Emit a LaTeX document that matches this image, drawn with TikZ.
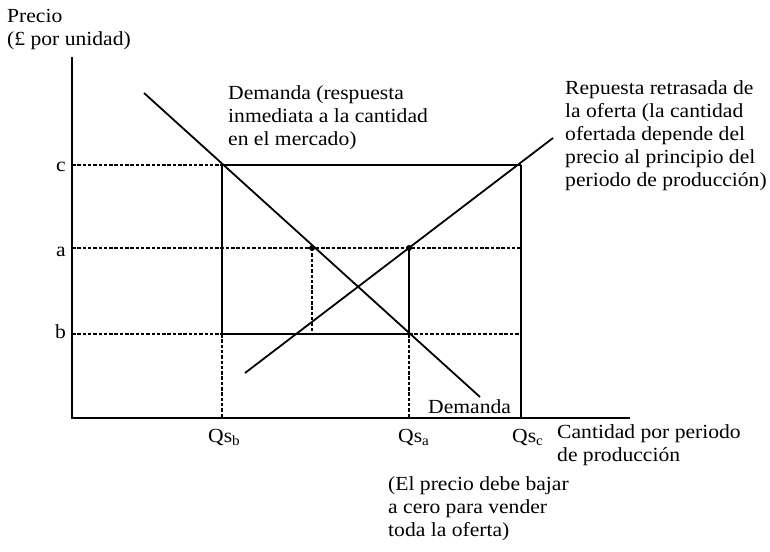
\documentclass[tikz,border=0pt]{standalone}
\usepackage{fontspec}
\setmainfont{Liberation Serif}[FakeStretch=1.08]
\newcommand\mlines[1]{\vtop{\halign{##\hfil\cr#1\crcr}}}
\begin{document}
\begin{tikzpicture}[x=1bp,y=-1bp,
  lbl/.style={inner sep=0pt, font=\fontsize{20bp}{23bp}\selectfont},
  txt/.style={lbl, anchor=base west},
  axisline/.style={line width=1.3bp},
  curve/.style={line width=1.8bp},
  solidref/.style={line width=1.2bp},
  dashref/.style={line width=1.1bp, dash pattern=on 3.5bp off 1.8bp},
  dot/.style={circle, fill, inner sep=0pt, minimum size=6bp}]
\useasboundingbox (0,0) rectangle (770,552);
% axes
\coordinate (O) at (72,418);
\coordinate (Ytop) at (72,57);
\coordinate (Xend) at (630,418);
\draw[axisline] (Ytop) -- (O) -- (Xend);
% reference points
\coordinate (yc) at (72,165);
\coordinate (ya) at (72,248);
\coordinate (yb) at (72,334);
\coordinate (cb) at (222,165);
\coordinate (cc) at (521,165);
\coordinate (am) at (312,248);
\coordinate (aa) at (409,248);
\coordinate (ac) at (521,248);
\coordinate (bb) at (222,334);
\coordinate (bm) at (312,334);
\coordinate (ba) at (409,334);
\coordinate (bc) at (521,334);
\coordinate (xb) at (222,418);
\coordinate (xa) at (409,418);
\coordinate (xc) at (521,418);
% price c
\draw[dashref] (yc) -- (cb);
\draw[solidref] (cb) -- (cc);
% price a
\draw[dashref] (ya) -- (ac);
% price b
\draw[dashref] (yb) -- (bb);
\draw[solidref] (bb) -- (ba);
\draw[dashref] (ba) -- (bc);
% verticals
\draw[solidref] (cb) -- (bb);
\draw[dashref] (bb) -- (xb);
\draw[dashref] (am) -- (bm);
\draw[solidref] (aa) -- (ba);
\draw[dashref] (ba) -- (xa);
\draw[solidref] (cc) -- (xc);
% demand and supply
\coordinate (D1) at (144,93);
\coordinate (D2) at (480,397);
\coordinate (S1) at (245,373);
\coordinate (S2) at (553,138);
\draw[curve] (D1) -- (D2);
\draw[curve] (S1) -- (S2);
\node[dot] (dm) at (am) {};
\node[dot] (da) at (aa) {};
% labels
\node[txt] (ylab) at (7,23) {\mlines{Precio\cr(£ por unidad)}};
\node[txt] (dlab) at (228,100) {\mlines{Demanda (respuesta\cr inmediata a la cantidad\cr en el mercado)}};
\node[txt] (slab) at (565,95) {\mlines{Repuesta retrasada de\cr la oferta (la cantidad\cr ofertada depende del\cr precio al principio del\cr periodo de producción)}};
\node[txt] (xlab) at (557,438) {\mlines{Cantidad por periodo\cr de producción}};
\node[txt] (note) at (388,490) {\mlines{(El precio debe bajar\cr a cero para vender\cr toda la oferta)}};
\node[txt] (dem) at (428,413) {Demanda};
\node[lbl, anchor=base east] (lc) at (66,172) {c};
\node[lbl, anchor=base east] (la) at (66,257) {a};
\node[lbl, anchor=base east] (lb) at (66,338) {b};
\node[txt] (qb) at (208,442) {Qs\textsubscript{b}};
\node[txt] (qa) at (398,442) {Qs\textsubscript{a}};
\node[txt] (qc) at (512,442) {Qs\textsubscript{c}};
\end{tikzpicture}
\end{document}
